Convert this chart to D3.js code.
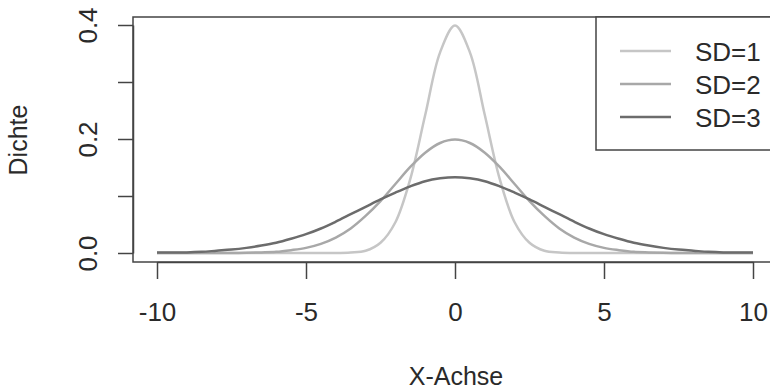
<!DOCTYPE html>
<html>
<head>
<meta charset="utf-8">
<script src="https://cdn.jsdelivr.net/npm/d3@7"></script>
<style>
  body { margin: 0; background: #fff; }
  svg { display: block; font-family: "Liberation Sans", Arial, sans-serif; }
</style>
</head>
<body>
<svg id="chart" width="770" height="392"></svg>
<script>
// x positions of the read-off points
const xValues = [-10, -9.5, -9, -8.5, -8, -7.5, -7, -6.5, -6, -5.5, -5, -4.5, -4, -3.5, -3, -2.5, -2, -1.5, -1, -0.5,
  0, 0.5, 1, 1.5, 2, 2.5, 3, 3.5, 4, 4.5, 5, 5.5, 6, 6.5, 7, 7.5, 8, 8.5, 9, 9.5, 10];

// density values
const sd1 = [0, 0, 0, 0, 0, 0, 0, 0, 0, 0, 0, 0, 0, 0.001, 0.004, 0.018, 0.054, 0.130, 0.242, 0.352,
  0.399, 0.352, 0.242, 0.130, 0.054, 0.018, 0.004, 0.001, 0, 0, 0, 0, 0, 0, 0, 0, 0, 0, 0, 0, 0];
const sd2 = [0, 0, 0, 0, 0, 0, 0.0004, 0.001, 0.002, 0.005, 0.009, 0.016, 0.027, 0.043, 0.065, 0.091, 0.121, 0.151, 0.176, 0.193,
  0.199, 0.193, 0.176, 0.151, 0.121, 0.091, 0.065, 0.043, 0.027, 0.016, 0.009, 0.005, 0.002, 0.001, 0.0004, 0, 0, 0, 0, 0, 0];
const sd3 = [0.001, 0.001, 0.001, 0.002, 0.004, 0.006, 0.009, 0.013, 0.018, 0.025, 0.033, 0.043, 0.055, 0.068, 0.081, 0.094, 0.106, 0.117, 0.126, 0.131,
  0.133, 0.131, 0.126, 0.117, 0.106, 0.094, 0.081, 0.068, 0.055, 0.043, 0.033, 0.025, 0.018, 0.013, 0.009, 0.006, 0.004, 0.002, 0.001, 0.001, 0.001];

const seriesNames = ["SD=1", "SD=2", "SD=3"];
const seriesColors = ["#c6c6c6", "#a8a8a8", "#6c6c6c"];
const xTicks = [-10, -5, 0, 5, 10];
const yTicks = [0, 0.1, 0.2, 0.3, 0.4];
const yLabels = [0, 0.2, 0.4];

const svg = d3.select("#chart");
const axisColor = "#444";

const x = d3.scaleLinear().domain([-10, 10]).range([157, 753]);
const y = d3.scaleLinear().domain([0, 0.4]).range([253, 25]);

// plot box (runs past the right edge like the reference)
svg.append("rect")
  .attr("x", 133).attr("y", 17)
  .attr("width", 660).attr("height", 245)
  .attr("fill", "none").attr("stroke", axisColor).attr("stroke-width", 1.5);

const line = d3.line()
  .x((d, i) => x(xValues[i]))
  .y(d => y(d))
  .curve(d3.curveCatmullRom.alpha(0.5));

svg.append("g")
  .selectAll("path")
  .data([sd1, sd2, sd3])
  .join("path")
  .attr("d", line)
  .attr("fill", "none")
  .attr("stroke", (d, i) => seriesColors[i])
  .attr("stroke-width", 2.5);

// x axis
const xAxis = svg.append("g")
  .attr("transform", "translate(0,262)")
  .call(d3.axisBottom(x).tickValues(xTicks).tickSize(17).tickSizeOuter(0).tickPadding(24).tickFormat(d3.format("d")));
xAxis.select(".domain").attr("stroke", axisColor).attr("stroke-width", 1.5);
xAxis.selectAll(".tick line").attr("stroke", axisColor).attr("stroke-width", 1.5);
xAxis.selectAll(".tick text")
  .attr("font-size", 26).attr("font-family", "Liberation Sans, Arial, sans-serif").attr("fill", "#2a2a2a")
  .text(d => d < 0 ? "-" + Math.abs(d) : d);

// y axis
const yAxis = svg.append("g")
  .attr("transform", "translate(133,0)")
  .call(d3.axisLeft(y).tickValues(yTicks).tickSize(15).tickSizeOuter(0)
    .tickFormat(d => yLabels.includes(d) ? d3.format(".1f")(d) : ""));
yAxis.select(".domain").attr("stroke", axisColor).attr("stroke-width", 1.5);
yAxis.selectAll(".tick line").attr("stroke", axisColor).attr("stroke-width", 1.5);
yAxis.selectAll(".tick text")
  .attr("x", null).attr("dy", null)
  .attr("transform", "translate(-36,0) rotate(-90)")
  .attr("text-anchor", "middle")
  .attr("font-size", 26).attr("font-family", "Liberation Sans, Arial, sans-serif").attr("fill", "#2a2a2a");

// axis titles
svg.append("text")
  .attr("x", 456).attr("y", 385)
  .attr("text-anchor", "middle")
  .attr("font-size", 25).attr("fill", "#2a2a2a")
  .text("X-Achse");

svg.append("text")
  .attr("transform", "translate(27,140) rotate(-90)")
  .attr("text-anchor", "middle")
  .attr("font-size", 25).attr("fill", "#2a2a2a")
  .text("Dichte");

// legend
svg.append("rect")
  .attr("x", 596).attr("y", 17)
  .attr("width", 200).attr("height", 133)
  .attr("fill", "#fff").attr("stroke", axisColor).attr("stroke-width", 1.5);

const legend = svg.append("g")
  .selectAll("g")
  .data(seriesNames)
  .join("g")
  .attr("transform", (d, i) => `translate(0,${51 + i * 33})`);

legend.append("line")
  .attr("x1", 620).attr("x2", 671)
  .attr("stroke", (d, i) => seriesColors[i])
  .attr("stroke-width", 2.5);

legend.append("text")
  .attr("x", 695).attr("y", 10)
  .attr("font-size", 26).attr("fill", "#2a2a2a")
  .text(d => d);
</script>
</body>
</html>
